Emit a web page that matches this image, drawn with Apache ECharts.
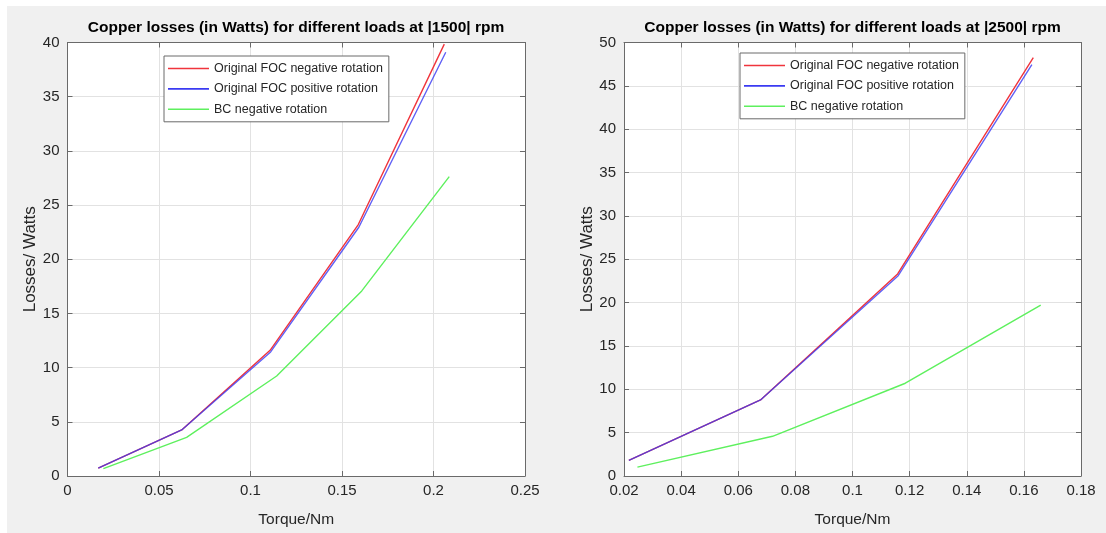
<!DOCTYPE html>
<html>
<head>
<meta charset="utf-8">
<script src="https://cdn.jsdelivr.net/npm/echarts@6/dist/echarts.min.js"></script>
<style>
  html, body { margin: 0; padding: 0; background: #ffffff; }
  #wrap { position: relative; width: 1106px; height: 533px; overflow: hidden; }
  #figbg { position: absolute; left: 7px; top: 6px; right: 0; bottom: 0; background: #f0f0f0; }
  #chart { position: absolute; left: 0; top: 0; width: 1106px; height: 533px; }
</style>
</head>
<body>
<div id="wrap">
  <div id="figbg"></div>
  <div id="chart"></div>
</div>
<script>
// Copper losses at |1500| rpm
const torque1500Neg = [0.0168, 0.0624, 0.1107, 0.1589, 0.2059];
const loss1500Neg   = [0.73, 4.25, 11.6, 23.2, 39.85];
const torque1500Pos = [0.0168, 0.0624, 0.1110, 0.1592, 0.2067];
const loss1500Pos   = [0.73, 4.25, 11.45, 22.95, 39.1];
const torque1500BC  = [0.0196, 0.0651, 0.1143, 0.1608, 0.2086];
const loss1500BC    = [0.68, 3.57, 9.23, 17.08, 27.62];

// Copper losses at |2500| rpm
const torque2500Neg = [0.0217, 0.0678, 0.1158, 0.1633];
const loss2500Neg   = [1.79, 8.77, 23.3, 48.25];
const torque2500Pos = [0.0217, 0.0678, 0.1160, 0.1628];
const loss2500Pos   = [1.79, 8.77, 23.1, 47.45];
const torque2500BC  = [0.0247, 0.0720, 0.1185, 0.1659];
const loss2500BC    = [1.03, 4.58, 10.7, 19.7];

const seriesNames = ['Original FOC negative rotation', 'Original FOC positive rotation', 'BC negative rotation'];
const titles = [
  'Copper losses (in Watts) for different loads at |1500| rpm',
  'Copper losses (in Watts) for different loads at |2500| rpm'
];
const xTicks1500 = ['0', '0.05', '0.1', '0.15', '0.2', '0.25'];
const xTicks2500 = ['0.02', '0.04', '0.06', '0.08', '0.1', '0.12', '0.14', '0.16', '0.18'];

const FONT = "'Liberation Sans', Arial, Helvetica, sans-serif";
const RED = '#f0343c', BLUE = '#3a3af2', GREEN = '#5ef05e';
const AXIS_COLOR = '#6a6a6a', GRID_COLOR = '#e2e2e2', TEXT_COLOR = '#262626';

function zip(xs, ys) { return xs.map((x, i) => [x, ys[i]]); }

function tickFormatter(ticks, min, step) {
  return v => {
    const i = Math.round((v - min) / step);
    return ticks[i] !== undefined ? ticks[i] : '';
  };
}

function xAxes(gridIndex, min, max, step, ticks) {
  const common = {
    type: 'value', gridIndex, min, max, interval: step,
    axisLine: { show: true, onZero: false, lineStyle: { color: AXIS_COLOR, width: 1 } },
    axisTick: { show: true, inside: true, length: 5, lineStyle: { color: AXIS_COLOR } }
  };
  return [
    Object.assign({}, common, {
      position: 'bottom',
      splitLine: { show: true, lineStyle: { color: GRID_COLOR, width: 1 } },
      axisLabel: { show: true, margin: 7, color: TEXT_COLOR, fontFamily: FONT, fontSize: 15,
                   formatter: tickFormatter(ticks, min, step) },
      name: 'Torque/Nm', nameLocation: 'middle', nameGap: 36,
      nameTextStyle: { color: TEXT_COLOR, fontFamily: FONT, fontSize: 15.5 }
    }),
    Object.assign({}, common, {
      position: 'top', splitLine: { show: false }, axisLabel: { show: false }
    })
  ];
}

function yAxes(gridIndex, max) {
  const common = {
    type: 'value', gridIndex, min: 0, max, interval: 5,
    axisLine: { show: true, onZero: false, lineStyle: { color: AXIS_COLOR, width: 1 } },
    axisTick: { show: true, inside: true, length: 5, lineStyle: { color: AXIS_COLOR } }
  };
  return [
    Object.assign({}, common, {
      position: 'left',
      splitLine: { show: true, lineStyle: { color: GRID_COLOR, width: 1 } },
      axisLabel: { show: true, margin: 8, color: TEXT_COLOR, fontFamily: FONT, fontSize: 15 },
      name: 'Losses/ Watts', nameLocation: 'middle', nameGap: 27, nameRotate: 90,
      nameTextStyle: { color: TEXT_COLOR, fontFamily: FONT, fontSize: 17 }
    }),
    Object.assign({}, common, {
      position: 'right', splitLine: { show: false }, axisLabel: { show: false }
    })
  ];
}

function lineSeries(name, color, xIdx, yIdx, data, opacity) {
  return {
    type: 'line', name, xAxisIndex: xIdx, yAxisIndex: yIdx, data,
    symbol: 'none', color,
    lineStyle: { color, width: 1.4, opacity: opacity || 1 },
    animation: false
  };
}

function legendFor(left, top) {
  return {
    data: seriesNames, orient: 'vertical', left, top,
    icon: 'rect', itemWidth: 41, itemHeight: 1.6, itemGap: 7.4,
    padding: [6, 6, 6, 4],
    backgroundColor: '#ffffff', borderColor: '#6a6a6a', borderWidth: 1, borderRadius: 0,
    textStyle: { color: TEXT_COLOR, fontFamily: FONT, fontSize: 12.5 },
    selectedMode: false
  };
}

const chart = echarts.init(document.getElementById('chart'), null, { renderer: 'canvas' });

chart.setOption({
  backgroundColor: 'transparent',
  animation: false,
  grid: [
    { left: 67.5, top: 42.5, width: 457.5, height: 436.5, show: true, backgroundColor: '#ffffff', borderWidth: 0 },
    { left: 624, top: 42.5, width: 457, height: 436.5, show: true, backgroundColor: '#ffffff', borderWidth: 0 }
  ],
  xAxis: [].concat(
    xAxes(0, 0, 0.25, 0.05, xTicks1500),
    xAxes(1, 0.02, 0.18, 0.02, xTicks2500)
  ),
  yAxis: [].concat(
    yAxes(0, 40),
    yAxes(1, 50)
  ),
  legend: [legendFor(164, 56), legendFor(740, 53)],
  graphic: [
    { type: 'text', x: 296, y: 28, silent: true,
      style: { text: titles[0], align: 'center', verticalAlign: 'middle', textAlign: 'center', textVerticalAlign: 'middle',
               font: "bold 15.5px " + FONT, fill: '#000000' } },
    { type: 'text', x: 852.5, y: 28, silent: true,
      style: { text: titles[1], align: 'center', verticalAlign: 'middle', textAlign: 'center', textVerticalAlign: 'middle',
               font: "bold 15.5px " + FONT, fill: '#000000' } }
  ],
  series: [
    lineSeries(seriesNames[0], RED, 0, 0, zip(torque1500Neg, loss1500Neg)),
    lineSeries(seriesNames[1], BLUE, 0, 0, zip(torque1500Pos, loss1500Pos), 0.8),
    lineSeries(seriesNames[2], GREEN, 0, 0, zip(torque1500BC, loss1500BC)),
    lineSeries(seriesNames[0], RED, 2, 2, zip(torque2500Neg, loss2500Neg)),
    lineSeries(seriesNames[1], BLUE, 2, 2, zip(torque2500Pos, loss2500Pos), 0.8),
    lineSeries(seriesNames[2], GREEN, 2, 2, zip(torque2500BC, loss2500BC))
  ]
});
</script>
</body>
</html>
